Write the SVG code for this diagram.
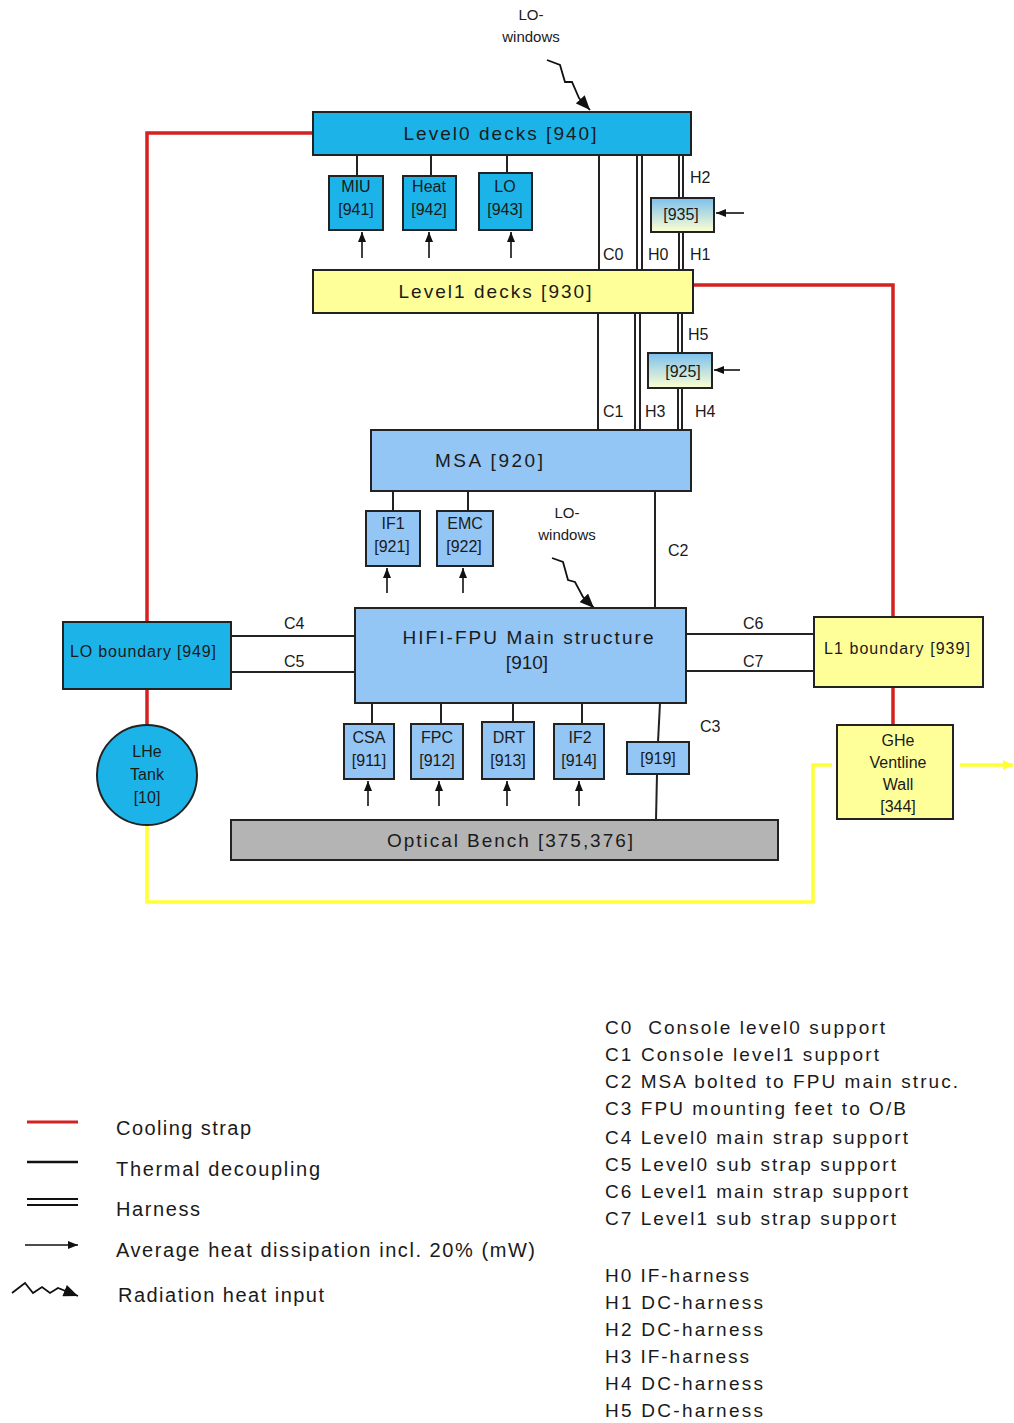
<svg xmlns="http://www.w3.org/2000/svg" width="1014" height="1423" viewBox="0 0 1014 1423">
<style>
text{font-family:"Liberation Sans",Arial,sans-serif;fill:#1a1a1a}
.t20{font-size:20px}
.t19{font-size:19px}
.t16{font-size:16px}
.t15{font-size:15px}
.c{text-anchor:middle}
.box{stroke:#222;stroke-width:2}
.cyan{fill:#1cb4e8}
.lb{fill:#93c5f5}
.yel{fill:#ffff99}
.gray{fill:#b4b4b4}
.ln{stroke:#222;stroke-width:2;fill:none}
.red{stroke:#d42222;stroke-width:3.5;fill:none}
.ylw{stroke:#ffff33;stroke-width:3.5;fill:none}
.arr{stroke:#111;stroke-width:1.6;fill:none;marker-end:url(#ah)}
.zz{stroke:#111;stroke-width:1.8;fill:none;marker-end:url(#zh)}
</style>
<defs>
<marker id="ah" viewBox="0 0 10 8" refX="10" refY="4" markerWidth="10" markerHeight="8" markerUnits="userSpaceOnUse" orient="auto"><path d="M0,0 L10,4 L0,8 z" fill="#111"/></marker>
<marker id="zh" viewBox="0 0 12 10" refX="12" refY="5" markerWidth="15" markerHeight="12" markerUnits="userSpaceOnUse" orient="auto"><path d="M0,0 L12,5 L0,10 z" fill="#111"/></marker>
<marker id="yh" viewBox="0 0 10 10" refX="10" refY="5" markerWidth="10" markerHeight="10" markerUnits="userSpaceOnUse" orient="auto"><path d="M0,0 L10,5 L0,10 z" fill="#ffff33"/></marker>
<linearGradient id="gr" x1="0" y1="0" x2="0" y2="1"><stop offset="0" stop-color="#7cc0ee"/><stop offset="1" stop-color="#ffffd2"/></linearGradient>
</defs>

<g id="connectors">
<polyline class="red" points="313,133 147,133 147,622"/>
<line class="red" x1="147" y1="689" x2="147" y2="726"/>
<polyline class="red" points="693,285 893,285 893,617"/>
<line class="red" x1="893" y1="687" x2="893" y2="725"/>
<polyline class="ylw" points="147,825 147,902 813,902 813,765 832,765"/>
<line class="ylw" x1="960" y1="765" x2="1013" y2="765" marker-end="url(#yh)"/>
<line class="ln" x1="357" y1="155" x2="357" y2="176"/>
<line class="ln" x1="431" y1="155" x2="431" y2="176"/>
<line class="ln" x1="507" y1="155" x2="507" y2="173"/>
<line class="ln" x1="599" y1="155" x2="599" y2="270"/>
<line class="ln" x1="637" y1="155" x2="637" y2="270"/>
<line class="ln" x1="642" y1="155" x2="642" y2="270"/>
<line class="ln" x1="679" y1="155" x2="679" y2="198"/>
<line class="ln" x1="683" y1="155" x2="683" y2="198"/>
<line class="ln" x1="679" y1="232" x2="679" y2="270"/>
<line class="ln" x1="683" y1="232" x2="683" y2="270"/>
<line class="ln" x1="598" y1="313" x2="598" y2="430"/>
<line class="ln" x1="635" y1="313" x2="635" y2="430"/>
<line class="ln" x1="640" y1="313" x2="640" y2="430"/>
<line class="ln" x1="678" y1="313" x2="678" y2="353"/>
<line class="ln" x1="682" y1="313" x2="682" y2="353"/>
<line class="ln" x1="678" y1="388" x2="678" y2="430"/>
<line class="ln" x1="682" y1="388" x2="682" y2="430"/>
<line class="ln" x1="393" y1="491" x2="393" y2="511"/>
<line class="ln" x1="468" y1="491" x2="468" y2="511"/>
<line class="ln" x1="655" y1="491" x2="655" y2="608"/>
<line class="ln" x1="231" y1="636" x2="355" y2="636"/>
<line class="ln" x1="231" y1="672" x2="355" y2="672"/>
<line class="ln" x1="686" y1="634" x2="814" y2="634"/>
<line class="ln" x1="686" y1="671" x2="814" y2="671"/>
<line class="ln" x1="372" y1="703" x2="372" y2="724"/>
<line class="ln" x1="441" y1="703" x2="441" y2="724"/>
<line class="ln" x1="513" y1="703" x2="513" y2="722"/>
<line class="ln" x1="582" y1="703" x2="582" y2="724"/>
<line class="ln" x1="660" y1="703" x2="658" y2="742"/>
<line class="ln" x1="657" y1="774" x2="656" y2="820"/>
<line class="arr" x1="362" y1="258" x2="362" y2="232"/>
<line class="arr" x1="429" y1="258" x2="429" y2="232"/>
<line class="arr" x1="511" y1="258" x2="511" y2="232"/>
<line class="arr" x1="744" y1="213" x2="716" y2="213"/>
<line class="arr" x1="740" y1="370" x2="714" y2="370"/>
<line class="arr" x1="387" y1="593" x2="387" y2="568"/>
<line class="arr" x1="463" y1="593" x2="463" y2="568"/>
<line class="arr" x1="368" y1="806" x2="368" y2="781"/>
<line class="arr" x1="439" y1="806" x2="439" y2="781"/>
<line class="arr" x1="507" y1="806" x2="507" y2="781"/>
<line class="arr" x1="579" y1="806" x2="579" y2="781"/>
<polyline class="zz" points="547,60 560,65 565,82 572,82 579,98 590,110"/>
<polyline class="zz" points="552,558 563,562 568,580 575,582 583,597 594,608"/>
</g>

<g id="n940"><rect class="box cyan" x="313" y="112" width="378" height="43"/><text class="t19 c" x="500" y="140" textLength="193" lengthAdjust="spacing">Level0 decks [940]</text></g>
<g id="n941"><rect class="box cyan" x="329" y="176" width="54" height="54"/><text class="t16 c" x="356" y="192">MIU</text><text class="t16 c" x="356" y="215">[941]</text></g>
<g id="n942"><rect class="box cyan" x="403" y="176" width="53" height="54"/><text class="t16 c" x="429" y="192">Heat</text><text class="t16 c" x="429" y="215">[942]</text></g>
<g id="n943"><rect class="box cyan" x="479" y="173" width="53" height="57"/><text class="t16 c" x="505" y="192">LO</text><text class="t16 c" x="505" y="215">[943]</text></g>
<g id="n935"><rect class="box" fill="url(#gr)" x="651" y="198" width="63" height="34"/><text class="t16 c" x="681" y="220">[935]</text></g>
<g id="n930"><rect class="box yel" x="313" y="270" width="380" height="43"/><text class="t19 c" x="495" y="298" textLength="193" lengthAdjust="spacing">Level1 decks [930]</text></g>
<g id="n925"><rect class="box" fill="url(#gr)" x="648" y="353" width="64" height="35"/><text class="t16 c" x="683" y="377">[925]</text></g>
<g id="n920"><rect class="box lb" x="371" y="430" width="320" height="61"/><text class="t19 c" x="489" y="467" textLength="108" lengthAdjust="spacing">MSA [920]</text></g>
<g id="n921"><rect class="box lb" x="366" y="511" width="54" height="55"/><text class="t16 c" x="393" y="529">IF1</text><text class="t16 c" x="392" y="552">[921]</text></g>
<g id="n922"><rect class="box lb" x="437" y="511" width="56" height="55"/><text class="t16 c" x="465" y="529">EMC</text><text class="t16 c" x="464" y="552">[922]</text></g>
<g id="n910"><rect class="box lb" x="355" y="608" width="331" height="95"/><text class="t19 c" x="528" y="644" textLength="251" lengthAdjust="spacing">HIFI-FPU Main structure</text><text class="t19 c" x="527" y="669">[910]</text></g>
<g id="n949"><rect class="box cyan" x="63" y="622" width="168" height="67"/><text class="t16 c" x="143" y="657" textLength="146" lengthAdjust="spacing">LO boundary [949]</text></g>
<g id="n939"><rect class="box yel" x="814" y="617" width="169" height="70"/><text class="t16 c" x="897" y="654" textLength="146" lengthAdjust="spacing">L1 boundary [939]</text></g>
<g id="n10"><circle class="box cyan" cx="147" cy="775" r="50"/><text class="t16 c" x="147" y="757">LHe</text><text class="t16 c" x="147" y="780">Tank</text><text class="t16 c" x="147" y="803">[10]</text></g>
<g id="n344"><rect class="box yel" x="837" y="725" width="116" height="94"/><text class="t16 c" x="898" y="746">GHe</text><text class="t16 c" x="898" y="768">Ventline</text><text class="t16 c" x="898" y="790">Wall</text><text class="t16 c" x="898" y="812">[344]</text></g>
<g id="n911"><rect class="box lb" x="344" y="724" width="50" height="55"/><text class="t16 c" x="369" y="743">CSA</text><text class="t16 c" x="369" y="766">[911]</text></g>
<g id="n912"><rect class="box lb" x="411" y="724" width="52" height="55"/><text class="t16 c" x="437" y="743">FPC</text><text class="t16 c" x="437" y="766">[912]</text></g>
<g id="n913"><rect class="box lb" x="482" y="722" width="52" height="57"/><text class="t16 c" x="509" y="743">DRT</text><text class="t16 c" x="508" y="766">[913]</text></g>
<g id="n914"><rect class="box lb" x="554" y="724" width="50" height="55"/><text class="t16 c" x="580" y="743">IF2</text><text class="t16 c" x="579" y="766">[914]</text></g>
<g id="n919"><rect class="box lb" x="627" y="742" width="62" height="32"/><text class="t16 c" x="658" y="764">[919]</text></g>
<g id="n375"><rect class="box gray" x="231" y="820" width="547" height="40"/><text class="t19 c" x="510" y="847" textLength="246" lengthAdjust="spacing">Optical Bench [375,376]</text></g>

<g id="labels">
<text class="t15 c" x="531" y="20">LO-</text>
<text class="t15 c" x="531" y="42">windows</text>
<text class="t15 c" x="567" y="518">LO-</text>
<text class="t15 c" x="567" y="540">windows</text>
<text class="t16" x="690" y="183">H2</text>
<text class="t16" x="603" y="260">C0</text>
<text class="t16" x="648" y="260">H0</text>
<text class="t16" x="690" y="260">H1</text>
<text class="t16" x="688" y="340">H5</text>
<text class="t16" x="603" y="417">C1</text>
<text class="t16" x="645" y="417">H3</text>
<text class="t16" x="695" y="417">H4</text>
<text class="t16" x="668" y="556">C2</text>
<text class="t16" x="284" y="629">C4</text>
<text class="t16" x="284" y="667">C5</text>
<text class="t16" x="743" y="629">C6</text>
<text class="t16" x="743" y="667">C7</text>
<text class="t16" x="700" y="732">C3</text>
</g>

<g id="legend">
<line x1="27" y1="1122" x2="78" y2="1122" stroke="#d42222" stroke-width="3"/>
<line x1="27" y1="1162" x2="78" y2="1162" stroke="#111" stroke-width="2.5"/>
<line x1="27" y1="1199" x2="78" y2="1199" stroke="#111" stroke-width="2"/>
<line x1="27" y1="1205" x2="78" y2="1205" stroke="#111" stroke-width="2"/>
<line class="arr" x1="25" y1="1245" x2="78" y2="1245"/>
<polyline class="zz" points="12,1293 25,1283 33,1293 42,1287 50,1293 58,1288 78,1296"/>
<text class="t20" x="116" y="1135" textLength="135" lengthAdjust="spacing">Cooling strap</text>
<text class="t20" x="116" y="1176" textLength="204" lengthAdjust="spacing">Thermal decoupling</text>
<text class="t20" x="116" y="1216" textLength="84" lengthAdjust="spacing">Harness</text>
<text class="t20" x="116" y="1257" textLength="419" lengthAdjust="spacing">Average heat dissipation incl. 20% (mW)</text>
<text class="t20" x="118" y="1302" textLength="206" lengthAdjust="spacing">Radiation heat input</text>
<text class="t19" x="605" y="1034" textLength="280" lengthAdjust="spacing" xml:space="preserve">C0  Console level0 support</text>
<text class="t19" x="605" y="1061" textLength="274" lengthAdjust="spacing">C1 Console level1 support</text>
<text class="t19" x="605" y="1088" textLength="353" lengthAdjust="spacing">C2 MSA bolted to FPU main struc.</text>
<text class="t19" x="605" y="1115" textLength="301" lengthAdjust="spacing">C3 FPU mounting feet to O/B</text>
<text class="t19" x="605" y="1144" textLength="303" lengthAdjust="spacing">C4 Level0 main strap support</text>
<text class="t19" x="605" y="1171" textLength="291" lengthAdjust="spacing">C5 Level0 sub strap support</text>
<text class="t19" x="605" y="1198" textLength="303" lengthAdjust="spacing">C6 Level1 main strap support</text>
<text class="t19" x="605" y="1225" textLength="291" lengthAdjust="spacing">C7 Level1 sub strap support</text>
<text class="t19" x="605" y="1282" textLength="144" lengthAdjust="spacing">H0 IF-harness</text>
<text class="t19" x="605" y="1309" textLength="158" lengthAdjust="spacing">H1 DC-harness</text>
<text class="t19" x="605" y="1336" textLength="158" lengthAdjust="spacing">H2 DC-harness</text>
<text class="t19" x="605" y="1363" textLength="144" lengthAdjust="spacing">H3 IF-harness</text>
<text class="t19" x="605" y="1390" textLength="158" lengthAdjust="spacing">H4 DC-harness</text>
<text class="t19" x="605" y="1417" textLength="158" lengthAdjust="spacing">H5 DC-harness</text>
</g>
</svg>
